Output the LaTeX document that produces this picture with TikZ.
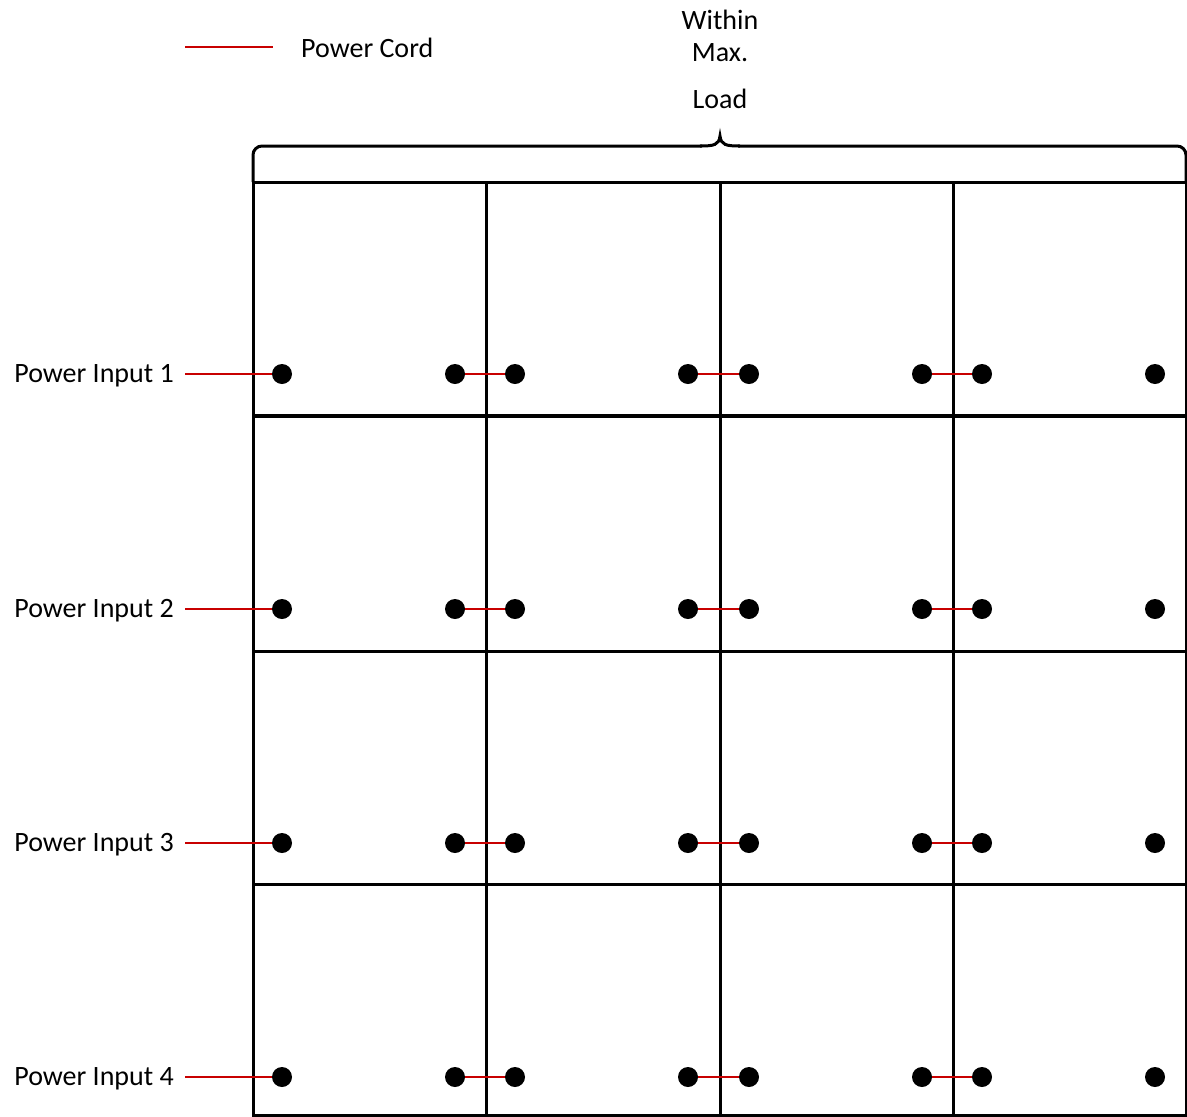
\documentclass[tikz,border=0pt]{standalone}
\usepackage{fontspec}
\setmainfont{Carlito}
\definecolor{cordred}{RGB}{200,0,0}
\tikzset{
  wall/.style={line width=3pt, black},
  cord/.style={line width=1.5pt, cordred},
  socket/.style={circle, fill=black, inner sep=0pt, minimum size=20pt},
  label/.style={font=\fontsize{28}{32}\selectfont, inner sep=0pt}
}
\begin{document}
\begin{tikzpicture}[x=1pt, y=-1pt]
    \useasboundingbox (0,0) rectangle (1187,1117);

    % Legend
    \coordinate (legend-a) at (185,47);
    \coordinate (legend-b) at (273,47);
    \draw[cord] (legend-a) -- (legend-b);
    \node[label, anchor=west] (legend) at (301,48) {Power Cord};

    % Load caption and brace
    \node[label] (within) at (720,20) {Within};
    \node[label] (max) at (720,53) {Max.};
    \node[label] (load) at (720,99) {Load};
    \draw[wall, rounded corners=9pt] (253,182) -- (253,146) -- (702,146);
    \draw[wall] (700,146)
        .. controls (714,146) and (719,145) .. (720,136)
        .. controls (721,145) and (726,146) .. (740,146);
    \draw[wall, rounded corners=9pt] (738,146) -- (1186,146) -- (1186,182);

    % Cells
    \draw[wall] (253,182) rectangle (1186,1115);
    \foreach \x in {486,720,953}
        \draw[wall] (\x,182) -- (\x,1115);
    \draw[wall, line width=4pt] (253,416) -- (1186,416);
    \foreach \y in {651,884}
        \draw[wall] (253,\y) -- (1186,\y);

    % Sockets, inputs and cords
    \foreach \r/\y in {1/374, 2/609, 3/843, 4/1077} {
        \foreach \c/\x in {1/253, 2/486, 3/720, 4/953} {
            \node[socket] (s-\r-\c-l) at (\x+29,\y) {};
            \node[socket] (s-\r-\c-r) at (\x+202,\y) {};
        }
        \node[label, anchor=east] (input-\r) at (174,\y+2) {Power Input \r};
        \draw[cord] (185,\y) -- (s-\r-1-l);
        \foreach \c/\n in {1/2, 2/3, 3/4}
            \draw[cord] (s-\r-\c-r) -- (s-\r-\n-l);
    }
\end{tikzpicture}
\end{document}
